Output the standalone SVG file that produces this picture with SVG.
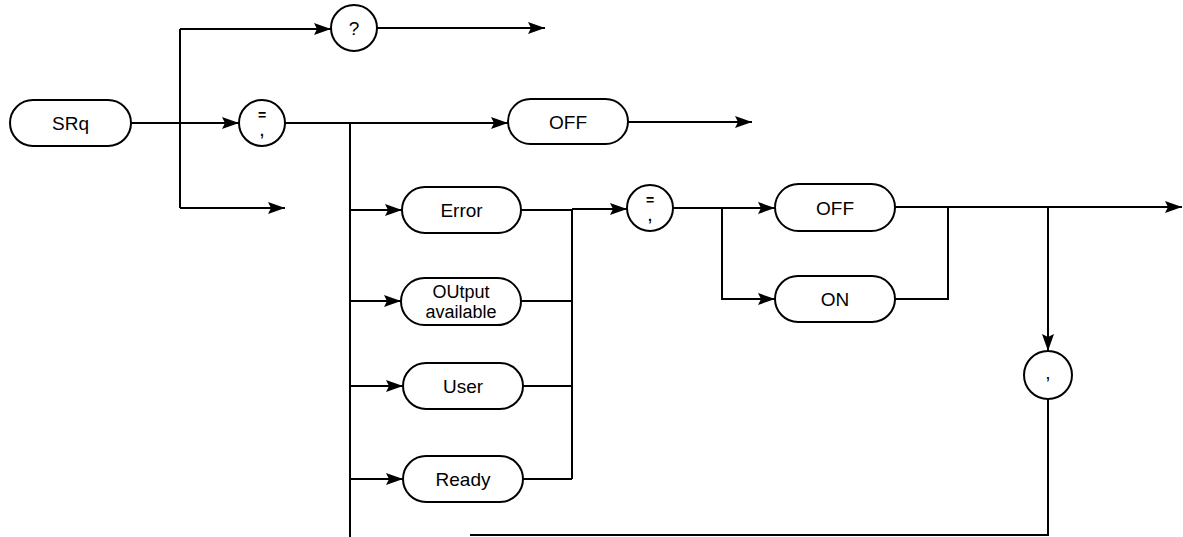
<svg xmlns="http://www.w3.org/2000/svg" width="1183" height="537" viewBox="0 0 1183 537">
<defs>
<marker id="ah" markerUnits="userSpaceOnUse" markerWidth="18" markerHeight="12" refX="17" refY="6" orient="auto">
<path d="M0,0 L17,6 L0,12 L3,6 z" fill="#000"/>
</marker>
<style>
.n{fill:#fff;stroke:#000;stroke-width:2}
.t{font-family:"Liberation Sans",Arial,sans-serif;font-size:19px;fill:#000;text-anchor:middle}
.s{font-family:"Liberation Sans",Arial,sans-serif;font-size:18px;fill:#000;text-anchor:middle}
.q{font-family:"Liberation Sans",Arial,sans-serif;font-size:14px;font-weight:bold;fill:#000;text-anchor:middle}
.c{fill:none;stroke:#000;stroke-width:2}
.a{fill:none;stroke:#000;stroke-width:2;marker-end:url(#ah)}
</style>
</defs>
<rect width="1183" height="537" fill="#fff"/>
<g id="connectors">
<path class="c" d="M131,123 H180"/>
<path class="a" d="M180,123 H239"/>
<path class="c" d="M180,29 V208"/>
<path class="a" d="M180,29 H331"/>
<path class="a" d="M377,28 H545"/>
<path class="a" d="M180,208 H285"/>
<path class="a" d="M285,123 H508"/>
<path class="a" d="M628,122 H752"/>
<path class="c" d="M350,123 V537"/>
<path class="a" d="M350,210 H402"/>
<path class="a" d="M350,301 H401"/>
<path class="a" d="M350,386 H403"/>
<path class="a" d="M350,479 H403"/>
<path class="c" d="M521,210 H572 M521,301 H572 M523,386 H572 M523,479 H572 M572,210 V479"/>
<path class="a" d="M572,209 H627"/>
<path class="a" d="M673,208 H775"/>
<path class="a" d="M722,208 V299 H775"/>
<path class="c" d="M895,299 H948 V207"/>
<path class="a" d="M895,207 H1182"/>
<path class="a" d="M1048,207 V351"/>
<path class="c" d="M1048,399 V535 H470"/>
</g>
<g id="SRq"><rect class="n" x="10" y="100" width="121" height="46" rx="23"/><text class="t" x="70.5" y="130">SRq</text></g>
<g id="query"><circle class="n" cx="354" cy="28" r="23"/><text class="t" x="354" y="35">?</text></g>
<g id="eqcomma1"><circle class="n" cx="262" cy="123" r="23"/><text class="q" x="262" y="120">=</text><text class="q" x="262" y="136">,</text></g>
<g id="OFF1"><rect class="n" x="508" y="99" width="120" height="45" rx="22.5"/><text class="t" x="568" y="128.5">OFF</text></g>
<g id="Error"><rect class="n" x="402" y="187" width="119" height="46" rx="23"/><text class="t" x="461.5" y="217">Error</text></g>
<g id="OUtput"><rect class="n" x="401" y="278" width="120" height="47" rx="23.5"/><text class="s" x="461" y="298">OUtput</text><text class="s" x="461" y="318">available</text></g>
<g id="User"><rect class="n" x="403" y="363" width="120" height="46" rx="23"/><text class="t" x="463" y="393">User</text></g>
<g id="Ready"><rect class="n" x="403" y="456" width="120" height="46" rx="23"/><text class="t" x="463" y="486">Ready</text></g>
<g id="eqcomma2"><circle class="n" cx="650" cy="208" r="23"/><text class="q" x="650" y="205">=</text><text class="q" x="650" y="221">,</text></g>
<g id="OFF2"><rect class="n" x="775" y="184" width="120" height="47" rx="23.5"/><text class="t" x="835" y="214.5">OFF</text></g>
<g id="ON"><rect class="n" x="775" y="276" width="120" height="46" rx="23"/><text class="t" x="835" y="306">ON</text></g>
<g id="comma"><circle class="n" cx="1048" cy="375" r="24"/><text class="t" x="1048" y="379">,</text></g>
</svg>
